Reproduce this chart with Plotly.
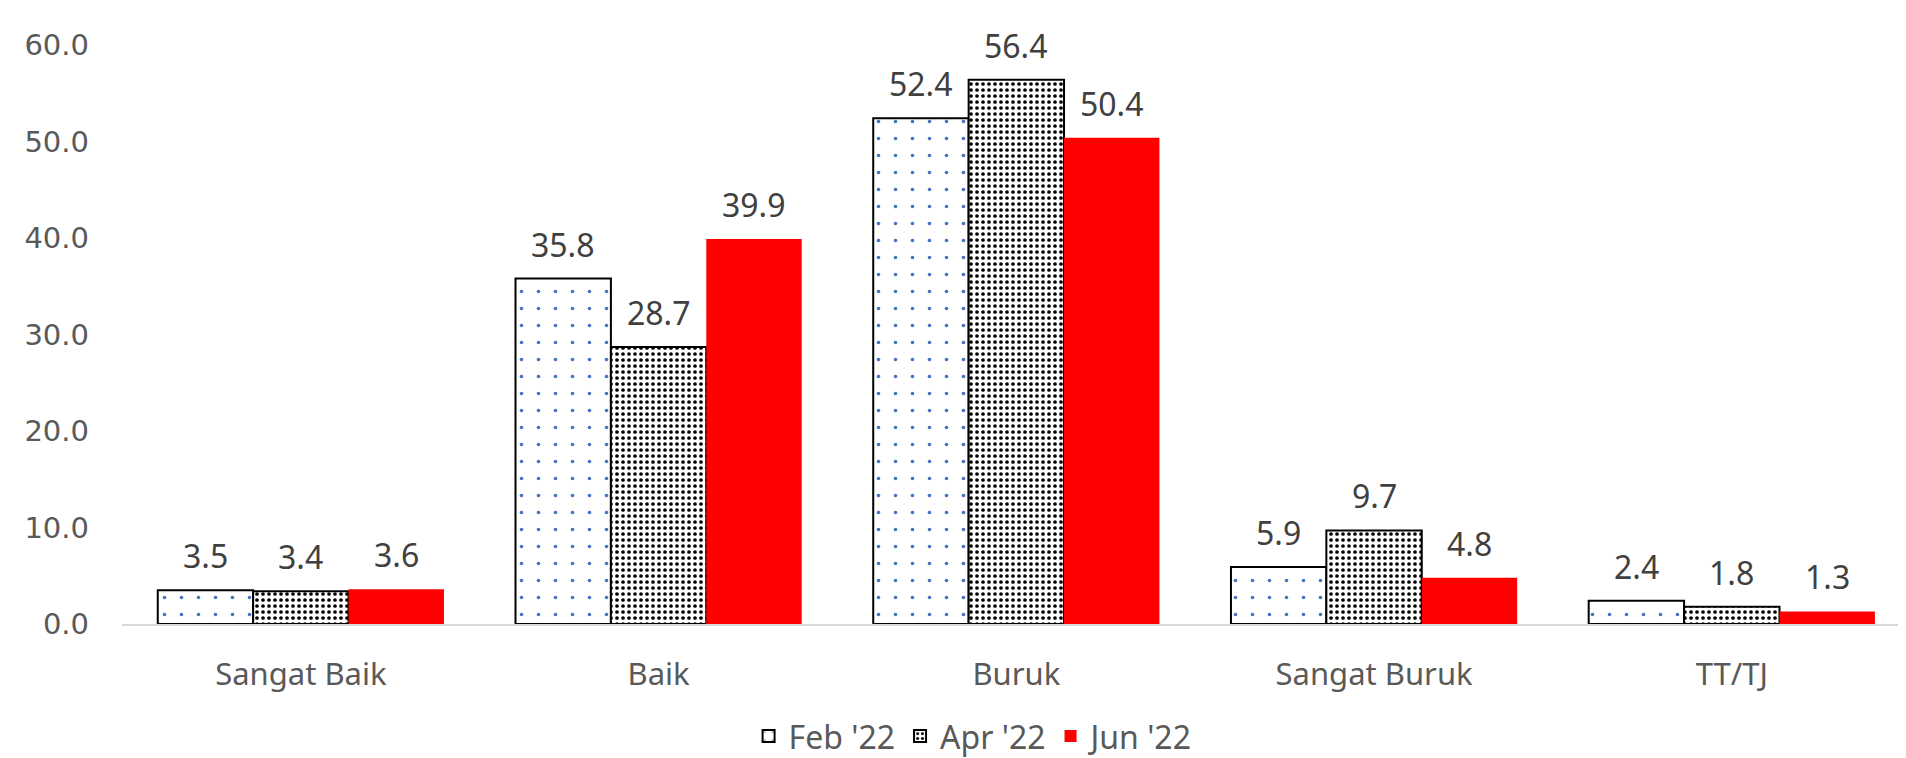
import plotly.graph_objects as go

categories = ["Sangat Baik", "Baik", "Buruk", "Sangat Buruk", "TT/TJ"]
series_names = ["Feb '22", "Apr '22", "Jun '22"]
feb_values = [3.5, 35.8, 52.4, 5.9, 2.4]
apr_values = [3.4, 28.7, 56.4, 9.7, 1.8]
jun_values = [3.6, 39.9, 50.4, 4.8, 1.3]
y_ticks = [0, 10, 20, 30, 40, 50, 60]

series_values = [feb_values, apr_values, jun_values]

styles = [
    dict(marker=dict(color="white",
                     line=dict(color="black", width=2),
                     pattern=dict(shape=".", fgcolor="#4472C4", bgcolor="white",
                                  size=17, solidity=0.035, fillmode="replace"))),
    dict(marker=dict(color="white",
                     line=dict(color="black", width=2),
                     pattern=dict(shape=".", fgcolor="black", bgcolor="white",
                                  size=6, solidity=0.3, fillmode="replace"))),
    dict(marker=dict(color="#FF0000", line=dict(color="#FF0000", width=0))),
]

fig = go.Figure()
for name, vals, st in zip(series_names, series_values, styles):
    fig.add_trace(go.Bar(x=categories, y=vals, name=name, **st))

# data labels
bargap = 0.2
n = len(series_names)
bw = (1 - bargap) / n
offsets = [(j - (n - 1) / 2) * bw for j in range(n)]
for j, vals in enumerate(series_values):
    for i, v in enumerate(vals):
        fig.add_annotation(x=i + offsets[j], y=v, xref="x", yref="y",
                           text=f"{v:.1f}", showarrow=False,
                           yanchor="bottom", yshift=11,
                           font=dict(family="Noto Sans", size=32, color="#404040"))

# page body has an 8px margin, so the figure is 8px smaller and shifted
fig.update_layout(
    width=1898, height=750,
    margin=dict(l=114, r=0, t=37, b=134),
    paper_bgcolor="white", plot_bgcolor="white",
    barmode="group", bargap=bargap, bargroupgap=0,
    showlegend=True,
    legend=dict(orientation="h", xref="container", yref="container",
                x=0.509, y=0.029, xanchor="center", yanchor="middle",
                font=dict(family="Noto Sans", size=32, color="#595959"),
                traceorder="normal"),
    xaxis=dict(range=[-0.5, 4.487], showgrid=False, showline=True,
               linecolor="#D9D9D9", linewidth=2, ticks="",
               tickfont=dict(family="Noto Sans", size=31, color="#595959"),
               ticklabelstandoff=22),
    yaxis=dict(range=[0, 60], tickvals=y_ticks, tickformat=".1f",
               showgrid=False, zeroline=False, showline=False, ticks="",
               tickfont=dict(family="DejaVu Sans", size=29, color="#595959"),
               ticklabelstandoff=32),
)

fig.write_html("out.html")
